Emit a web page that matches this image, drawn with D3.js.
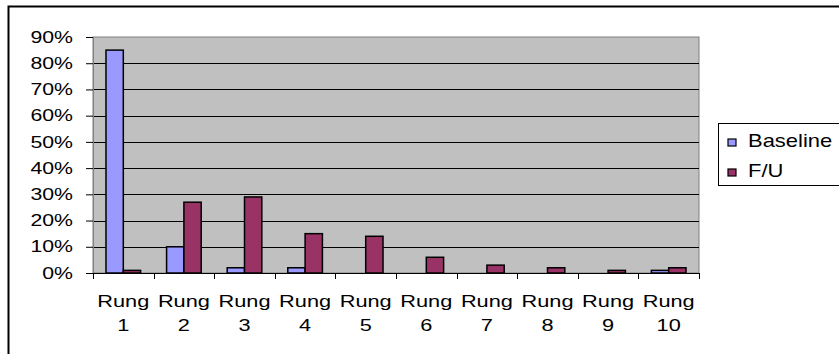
<!DOCTYPE html>
<html>
<head>
<meta charset="utf-8">
<script src="https://cdn.jsdelivr.net/npm/d3@7"></script>
<style>
  body { margin: 0; background: #fff; }
  svg { display: block; font-family: "Liberation Sans", Arial, sans-serif; }
</style>
</head>
<body>
<div class="content"></div>
<script>
const WIDTH = 839
const HEIGHT = 354

const categories = ["1", "2", "3", "4", "5", "6", "7", "8", "9", "10"];
const seriesNames = ["Baseline", "F/U"];
const baseline = [85, 10, 2, 2, 0, 0, 0, 0, 0, 1];
const followUp = [1, 27, 29, 15, 14, 6, 3, 2, 1, 2];
const yTicks = [0, 10, 20, 30, 40, 50, 60, 70, 80, 90];
const COLORS = {"Baseline": "#9999FF", "F/U": "#993366"};

const plot = {left: 93, right: 699, top: 37, bottom: 273};
// the source picture is stretched sideways, so text is too
const STRETCH = 1.28;

const svg = d3.select(".content").append("svg").attr("width", WIDTH).attr("height", HEIGHT);

// chart frame (runs past the picture on the right and bottom)
svg.append("rect")
    .attr("x", 8.5).attr("y", 6.5)
    .attr("width", WIDTH + 20).attr("height", HEIGHT + 20)
    .attr("fill", "#fff").attr("stroke", "#000").attr("stroke-width", 2);

let xscale = d3.scaleBand()
    .domain(categories)
    .range([plot.left, plot.right]);

// two bars plus a 150% gap inside each category
let barW = xscale.bandwidth() / 3.5;

let yscale = d3.scaleLinear()
    .domain([0, 90])
    .range([plot.bottom, plot.top]);

// plot background
svg.append("rect")
    .attr("x", plot.left).attr("y", plot.top)
    .attr("width", plot.right - plot.left).attr("height", plot.bottom - plot.top)
    .attr("fill", "#C0C0C0").attr("stroke", "#808080").attr("stroke-width", 1);

// gridlines
svg.append("g")
    .selectAll("line")
    .data(yTicks.filter(d => d > 0 && d < 90))
    .join("line")
    .attr("x1", plot.left).attr("x2", plot.right)
    .attr("y1", d => Math.round(yscale(d)) + 0.5)
    .attr("y2", d => Math.round(yscale(d)) + 0.5)
    .attr("stroke", "#000");

// y axis
let yaxis = d3.axisLeft(yscale)
    .tickValues(yTicks)
    .tickSize(7)
    .tickFormat(d => d + "%");

let yg = svg.append("g").attr("transform", `translate(${plot.left},0)`).call(yaxis);
yg.select(".domain").attr("stroke", "#808080");
yg.selectAll(".tick line").attr("stroke", "#000");
yg.selectAll(".tick text")
    .attr("x", null)
    .attr("transform", "translate(-20,0) scale(1.33,1)")
    .style("font-size", "16px")
    .attr("fill", "#000");

// bars
let barData = [];
categories.forEach((c, i) => {
    barData.push({cat: c, series: "Baseline", value: baseline[i], idx: 0});
    barData.push({cat: c, series: "F/U", value: followUp[i], idx: 1});
});

svg.append("g")
    .selectAll("rect")
    .data(barData.filter(d => d.value > 0))
    .join("rect")
    .attr("x", d => xscale(d.cat) + barW * 0.75 + d.idx * barW)
    .attr("y", d => yscale(d.value))
    .attr("width", barW)
    .attr("height", d => yscale(0) - yscale(d.value))
    .attr("fill", d => COLORS[d.series])
    .attr("stroke", "#000")
    .attr("stroke-width", 1.5);

// x axis line and ticks
svg.append("line")
    .attr("x1", plot.left).attr("x2", plot.right)
    .attr("y1", plot.bottom + 0.5).attr("y2", plot.bottom + 0.5)
    .attr("stroke", "#000");

let boundaries = categories.map(c => xscale(c)).concat([plot.right]);
svg.append("g")
    .selectAll("line")
    .data(boundaries)
    .join("line")
    .attr("x1", d => Math.round(d) + 0.5).attr("x2", d => Math.round(d) + 0.5)
    .attr("y1", plot.bottom).attr("y2", plot.bottom + 6)
    .attr("stroke", "#000");

// x labels
let xl = svg.append("g")
    .selectAll("g")
    .data(categories)
    .join("g")
    .attr("transform", d => `translate(${xscale(d) + xscale.bandwidth() / 2},0) scale(${STRETCH},1)`);
xl.append("text")
    .attr("text-anchor", "middle")
    .attr("y", 307)
    .style("font-size", "17px")
    .text("Rung");
xl.append("text")
    .attr("text-anchor", "middle")
    .attr("y", 331)
    .style("font-size", "17px")
    .text(d => d);

// legend
let legend = svg.append("g");
legend.append("rect")
    .attr("x", 718.5).attr("y", 123.5)
    .attr("width", 140).attr("height", 62)
    .attr("fill", "#fff").attr("stroke", "#000");

let items = legend.selectAll("g")
    .data(seriesNames)
    .join("g")
    .attr("transform", (d, i) => `translate(0,${i * 30})`);
items.append("rect")
    .attr("x", 728).attr("y", 139)
    .attr("width", 8).attr("height", 7)
    .attr("fill", d => COLORS[d])
    .attr("stroke", "#000").attr("stroke-width", 1.2);
items.append("text")
    .attr("transform", "translate(748,147) scale(1.22,1)")
    .text(d => d)
    .style("font-size", "18px");
</script>
</body>
</html>
